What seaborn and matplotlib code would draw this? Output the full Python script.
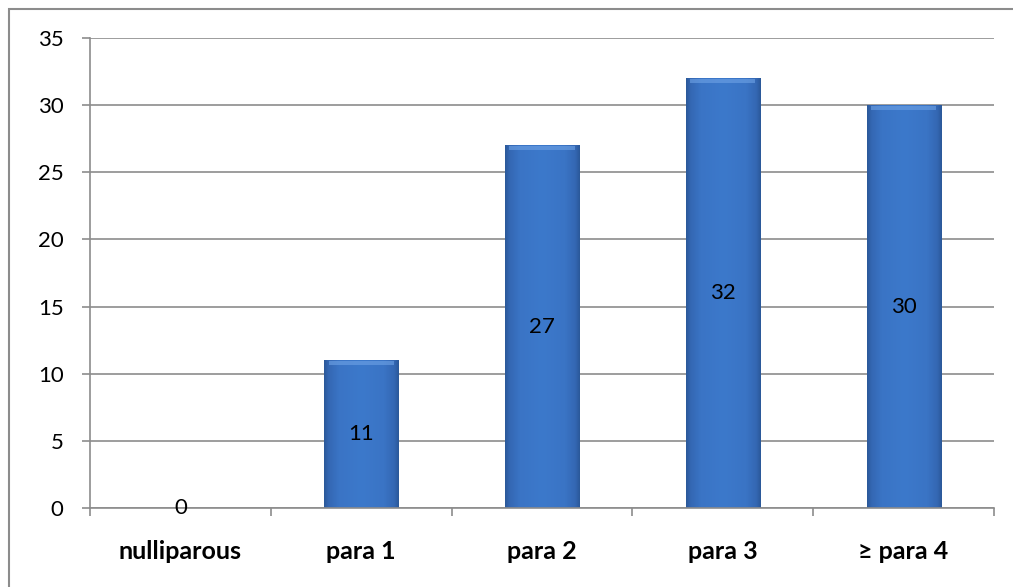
import numpy as np
import pandas as pd
import matplotlib
matplotlib.use("Agg")
import matplotlib.pyplot as plt
import seaborn as sns
from matplotlib.colors import LinearSegmentedColormap
from matplotlib.patches import Rectangle

categories = ["nulliparous", "para 1", "para 2", "para 3", "\u2265 para 4"]
values = [0, 11, 27, 32, 30]

df = pd.DataFrame({"parity": categories, "count": values})

sns.set_theme(style="white")
plt.rcParams["font.family"] = ["Lato", "DejaVu Sans"]

fig = plt.figure(figsize=(10.13, 5.87), dpi=100)
ax = fig.add_axes([90 / 1013, 1 - 508 / 587, (994 - 90) / 1013, (508 - 38) / 587])

sns.barplot(data=df, x="parity", y="count", ax=ax, color="#3A75C6",
            width=0.41, saturation=1, edgecolor="none")

# horizontal shading inside each bar: thin dark rims, even blue body
shade = LinearSegmentedColormap.from_list(
    "barshade",
    [(0.0, "#2B5898"), (0.06, "#3467B3"), (0.2, "#3A74C5"), (0.5, "#3C79CB"),
     (0.8, "#3A74C5"), (0.94, "#3467B3"), (1.0, "#2B5898")])
grad = np.linspace(0, 1, 256).reshape(1, -1)
for patch in ax.patches:
    x0, y0 = patch.get_x(), patch.get_y()
    w, h = patch.get_width(), patch.get_height()
    if h <= 0:
        continue
    im = ax.imshow(grad, cmap=shade, aspect="auto",
                   extent=[x0, x0 + w, y0, y0 + h], zorder=2.5)
    im.set_clip_path(patch)
    # lighter cap along the top of the bar
    cap = Rectangle((x0 + w * 0.06, y0 + h - 0.35), w * 0.88, 0.3,
                    facecolor="#6FA3E6", edgecolor="none", alpha=0.6, zorder=2.6)
    ax.add_patch(cap)

ax.set_xlim(-0.5, len(categories) - 0.5)
ax.set_ylim(0, 35)
ax.set_yticks(np.arange(0, 36, 5))
ax.yaxis.grid(True, color="#8C8C8C", linewidth=1.2, zorder=0)
ax.set_axisbelow(True)

for side in ["top", "right"]:
    ax.spines[side].set_visible(False)
for side in ["left", "bottom"]:
    ax.spines[side].set_color("#8C8C8C")
    ax.spines[side].set_linewidth(1.2)

# category boundary ticks on the x axis
ax.set_xticks(np.arange(len(categories)))
ax.set_xticklabels(categories, fontsize=18, fontweight="bold", color="black")
ax.set_xticks(np.arange(-0.5, len(categories), 1), minor=True)
ax.tick_params(axis="x", which="major", length=0, pad=23)
ax.tick_params(axis="x", which="minor", length=6, width=1.2, color="#8C8C8C",
               direction="out", bottom=True)
ax.tick_params(axis="y", length=6, width=1.2, color="#8C8C8C", labelsize=16,
               labelcolor="black", pad=13, left=True, direction="out")
ax.set_xlabel("")
ax.set_ylabel("")

# value labels centered in each bar
for i, v in enumerate(values):
    ax.text(i, v / 2, str(v), ha="center", va="center", fontsize=16,
            color="black", zorder=4)

# outer chart frame
fig.patches.append(Rectangle((9 / 1013, -0.05), 1.1, 1 - 9 / 587 + 0.05,
                             transform=fig.transFigure, fill=False,
                             edgecolor="#8C8C8C", linewidth=1.5))

fig.savefig("out.png", dpi=100, facecolor="white")
